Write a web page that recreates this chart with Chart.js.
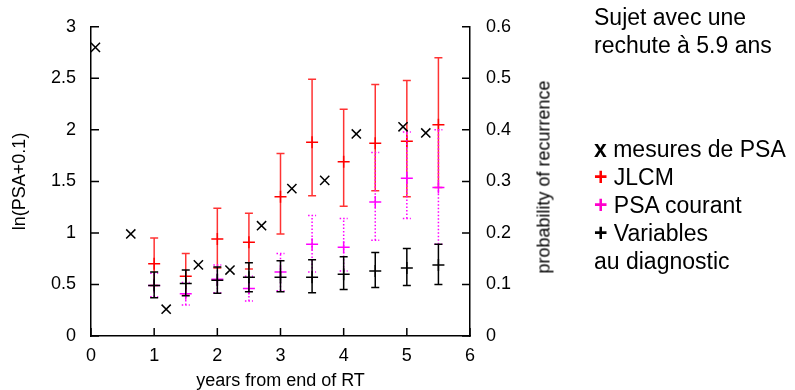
<!DOCTYPE html>
<html lang="fr">
<head>
  <meta charset="UTF-8" />
  <title>Sujet avec une rechute à 5.9 ans</title>
  <script src="https://cdn.jsdelivr.net/npm/chart.js"></script>
  <style>
    body {
      margin: 0;
      background: #fff;
      font-family: 'Liberation Sans', Arial, sans-serif;
      color: #000;
    }
    .wrap {
      position: relative;
      width: 795px;
      height: 390px;
    }
    .note, .legend {
      position: absolute;
      left: 594px;
      font-size: 23px;
      line-height: 28px;
      white-space: nowrap;
    }
    .rtitle {
      position: absolute;
      left: 544px;
      top: 177px;
      font-size: 18px;
      color: #000;
      white-space: nowrap;
      transform: translate(-50%, -50%) rotate(-90deg);
    }
  </style>
</head>
<body>
  <div class="wrap">
    <canvas id="chart" width="795" height="390"></canvas>
    <div class="rtitle">probability of recurrence</div>
    <div class="note" style="top:3px">Sujet avec une<br>rechute à 5.9 ans</div>
    <div class="legend" style="top:135px">
      <b>x</b> mesures de PSA<br>
      <b style="color:#f00">+</b> JLCM<br>
      <b style="color:#f0c">+</b> PSA courant<br>
      <b>+</b> Variables<br>
      au diagnostic
    </div>
  </div>

  <script>
    // mesures observées (axe gauche, ln(PSA+0.1))
    const psaTimes = [0.07, 0.63, 1.19, 1.70, 2.20, 2.70, 3.18, 3.70, 4.20, 4.94, 5.30];
    const psaValues = [2.80, 0.99, 0.26, 0.69, 0.64, 1.07, 1.43, 1.51, 1.96, 2.03, 1.97];

    // prédictions (axe droit, probabilité de récidive)
    const predTimes = [1, 1.5, 2, 2.5, 3, 3.5, 4, 4.5, 5, 5.5];

    const jlcmMean = [0.140, 0.116, 0.188, 0.182, 0.270, 0.376, 0.338, 0.374, 0.378, 0.410];
    const jlcmLow  = [0.098, 0.082, 0.132, 0.130, 0.198, 0.272, 0.252, 0.282, 0.270, 0.288];
    const jlcmHigh = [0.190, 0.160, 0.248, 0.238, 0.354, 0.498, 0.440, 0.488, 0.496, 0.540];

    const courantMean = [0.098, 0.082, 0.110, 0.092, 0.124, 0.178, 0.172, 0.260, 0.306, 0.288];
    const courantLow  = [0.076, 0.060, 0.084, 0.068, 0.088, 0.124, 0.126, 0.186, 0.228, 0.178];
    const courantHigh = [0.122, 0.104, 0.138, 0.116, 0.160, 0.234, 0.228, 0.356, 0.396, 0.400];

    const diagMean = [0.098, 0.102, 0.108, 0.114, 0.114, 0.114, 0.120, 0.126, 0.132, 0.138];
    const diagLow  = [0.074, 0.078, 0.083, 0.086, 0.086, 0.084, 0.090, 0.094, 0.098, 0.100];
    const diagHigh = [0.124, 0.128, 0.134, 0.142, 0.146, 0.148, 0.154, 0.162, 0.170, 0.178];

    const xTicks = [0, 1, 2, 3, 4, 5, 6];
    const yTicks = [0, 0.5, 1, 1.5, 2, 2.5, 3];
    const probTicks = [0, 0.1, 0.2, 0.3, 0.4, 0.5, 0.6];

    Chart.defaults.font.family = "'Liberation Sans', Arial, sans-serif";
    Chart.defaults.color = '#000';

    const pts = (xs, ys) => xs.map((x, i) => ({ x: x, y: ys[i] }));
    const plain = v => String(v);

    // barres d'erreur dessinées avant les points de chaque série
    const errorBars = {
      id: 'errorBars',
      beforeDatasetDraw(chart, args) {
        const ds = chart.data.datasets[args.index];
        if (!ds.low) return;
        const ctx = chart.ctx;
        const xs = chart.scales.x;
        const ys = chart.scales[ds.yAxisID];
        ctx.save();
        ctx.strokeStyle = ds.barColor;
        ctx.lineWidth = 1.5;
        ctx.setLineDash(ds.dash || []);
        ds.data.forEach((p, i) => {
          const px = xs.getPixelForValue(p.x);
          const lo = ys.getPixelForValue(ds.low[i]);
          const hi = ys.getPixelForValue(ds.high[i]);
          ctx.beginPath();
          ctx.moveTo(px, lo); ctx.lineTo(px, hi);
          ctx.moveTo(px - 4, lo); ctx.lineTo(px + 4, lo);
          ctx.moveTo(px - 4, hi); ctx.lineTo(px + 4, hi);
          ctx.stroke();
        });
        ctx.restore();
      }
    };

    // graduations tournées vers l'intérieur (style gnuplot)
    const innerTicks = {
      id: 'innerTicks',
      afterDatasetsDraw(chart) {
        const ctx = chart.ctx;
        const a = chart.chartArea;
        const len = 8;
        ctx.save();
        ctx.strokeStyle = '#000';
        ctx.lineWidth = 1.5;
        ctx.beginPath();
        xTicks.forEach(v => {
          const px = chart.scales.x.getPixelForValue(v);
          ctx.moveTo(px, a.bottom); ctx.lineTo(px, a.bottom - len);
        });
        yTicks.forEach(v => {
          const py = chart.scales.y.getPixelForValue(v);
          ctx.moveTo(a.left, py); ctx.lineTo(a.left + len, py);
        });
        probTicks.forEach(v => {
          const py = chart.scales.y2.getPixelForValue(v);
          ctx.moveTo(a.right, py); ctx.lineTo(a.right - len, py);
        });
        ctx.stroke();
        ctx.restore();
      }
    };

    new Chart(document.getElementById('chart'), {
      type: 'scatter',
      data: {
        datasets: [
          {
            label: 'mesures de PSA',
            data: pts(psaTimes, psaValues),
            yAxisID: 'y',
            order: 0,
            pointStyle: 'crossRot',
            radius: 6.5,
            borderColor: '#000',
            borderWidth: 1.5
          },
          {
            label: 'Variables au diagnostic',
            data: pts(predTimes, diagMean),
            low: diagLow,
            high: diagHigh,
            barColor: '#000',
            yAxisID: 'y2',
            order: 1,
            pointStyle: 'cross',
            radius: 6,
            borderColor: '#000',
            borderWidth: 1.5
          },
          {
            label: 'PSA courant',
            data: pts(predTimes, courantMean),
            low: courantLow,
            high: courantHigh,
            barColor: '#ff00ff',
            dash: [1.5, 2],
            yAxisID: 'y2',
            order: 2,
            pointStyle: 'cross',
            radius: 6,
            borderColor: '#ff00ff',
            borderWidth: 1.5
          },
          {
            label: 'JLCM',
            data: pts(predTimes, jlcmMean),
            low: jlcmLow,
            high: jlcmHigh,
            barColor: 'rgba(255,0,0,0.8)',
            yAxisID: 'y2',
            order: 3,
            pointStyle: 'cross',
            radius: 6,
            borderColor: '#ff0000',
            borderWidth: 1.5
          }
        ]
      },
      options: {
        responsive: false,
        devicePixelRatio: 1,
        animation: false,
        events: [],
        layout: { padding: { top: 16, left: 0, right: 0, bottom: 0 } },
        plugins: {
          legend: { display: false },
          tooltip: { enabled: false }
        },
        scales: {
          x: {
            type: 'linear',
            min: 0,
            max: 6,
            afterBuildTicks: s => { s.ticks = xTicks.map(v => ({ value: v })); },
            afterFit: s => { s.height = 54; },
            grid: { display: false, drawTicks: false },
            border: { display: true, color: '#000', width: 1.5 },
            ticks: { font: { size: 18 }, padding: 9, callback: plain },
            title: {
              display: true,
              text: 'years from end of RT',
              font: { size: 18, lineHeight: 1 },
              padding: 0
            }
          },
          y: {
            position: 'left',
            min: 0,
            max: 3,
            afterBuildTicks: s => { s.ticks = yTicks.map(v => ({ value: v })); },
            afterFit: s => { s.width = 91; },
            grid: { display: false, drawTicks: false },
            border: { display: true, color: '#000', width: 1.5 },
            ticks: { font: { size: 18 }, padding: 15, callback: plain },
            title: {
              display: true,
              text: 'ln(PSA+0.1)',
              font: { size: 18, lineHeight: 1 },
              padding: { top: 11, bottom: 0 }
            }
          },
          y2: {
            position: 'right',
            min: 0,
            max: 0.6,
            afterBuildTicks: s => { s.ticks = probTicks.map(v => ({ value: v })); },
            afterFit: s => { s.width = 325; },
            grid: { display: false, drawTicks: false },
            border: { display: true, color: '#000', width: 1.5 },
            ticks: { font: { size: 18 }, padding: 16, callback: plain }
          }
        }
      },
      plugins: [errorBars, innerTicks]
    });
  </script>
</body>
</html>
